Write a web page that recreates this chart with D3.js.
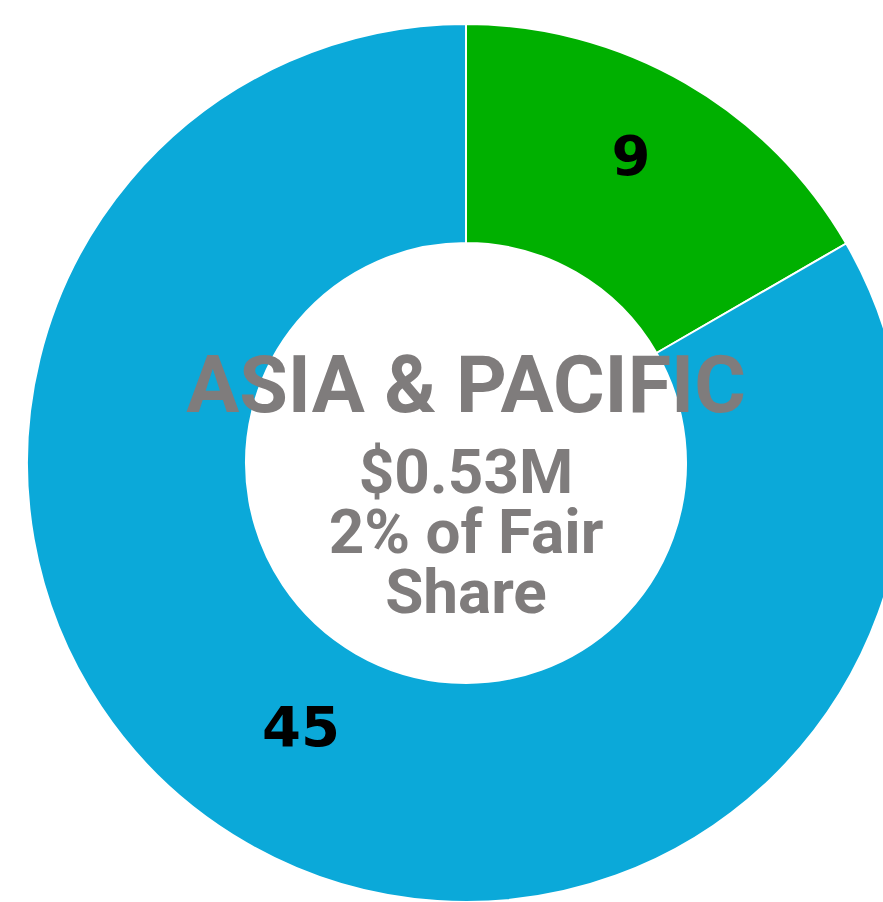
<!DOCTYPE html>
<html>
<head>
<meta charset="utf-8">
<script src="https://cdn.jsdelivr.net/npm/d3@7"></script>
<style>
  html, body { margin: 0; padding: 0; background: #fff; }
  svg { display: block; }
</style>
</head>
<body>
<div id="chart"></div>
<script>
const categories = ["Met", "Not met"];
const values = [9, 45];
const colors = ["#00b000", "#0ba9d9"];
const centerTitle = "ASIA & PACIFIC";
const centerLines = ["$0.53M", "2% of Fair", "Share"];

const width = 883, height = 902;
const cx = 466, cy = 463;
const outerR = 439, innerR = 220;

const svg = d3.select("#chart").append("svg")
    .attr("width", width)
    .attr("height", height);

const g = svg.append("g")
    .attr("transform", "translate(" + cx + "," + cy + ")");

const pie = d3.pie().sort(null).value(d => d.value);
const arc = d3.arc().innerRadius(innerR).outerRadius(outerR);
const labelArc = d3.arc().innerRadius(330).outerRadius(330);

const data = categories.map((c, i) => ({name: c, value: values[i], color: colors[i]}));
const arcs = pie(data);

g.selectAll(".slice")
    .data(arcs)
    .enter().append("path")
    .attr("class", "slice")
    .attr("d", arc)
    .attr("fill", d => d.data.color)
    .attr("stroke", "#fff")
    .attr("stroke-width", 2);

g.selectAll(".slice-label")
    .data(arcs)
    .enter().append("text")
    .attr("class", "slice-label")
    .attr("transform", d => {
        const [x, y] = labelArc.centroid(d);
        return "translate(" + x + "," + (y - 22) + ")";
    })
    .attr("text-anchor", "middle")
    .attr("dominant-baseline", "central")
    .style("font-family", "'DejaVu Sans', sans-serif")
    .style("font-weight", "bold")
    .style("font-size", "56px")
    .style("fill", "#000")
    .text(d => d.data.value);

g.append("text")
    .attr("x", 0)
    .attr("y", 412 - cy)
    .attr("text-anchor", "middle")
    .style("font-family", "Roboto, sans-serif")
    .style("font-weight", "bold")
    .style("font-size", "79px")
    .style("fill", "#7f7c7c")
    .text(centerTitle);

// tight line spacing, as in the source
g.selectAll(".center-line")
    .data(centerLines)
    .enter().append("text")
    .attr("class", "center-line")
    .attr("x", 0)
    .attr("y", (d, i) => 493 - cy + i * 60)
    .attr("text-anchor", "middle")
    .style("font-family", "Roboto, sans-serif")
    .style("font-weight", "bold")
    .style("font-size", "62px")
    .style("fill", "#7f7c7c")
    .text(d => d);
</script>
</body>
</html>
